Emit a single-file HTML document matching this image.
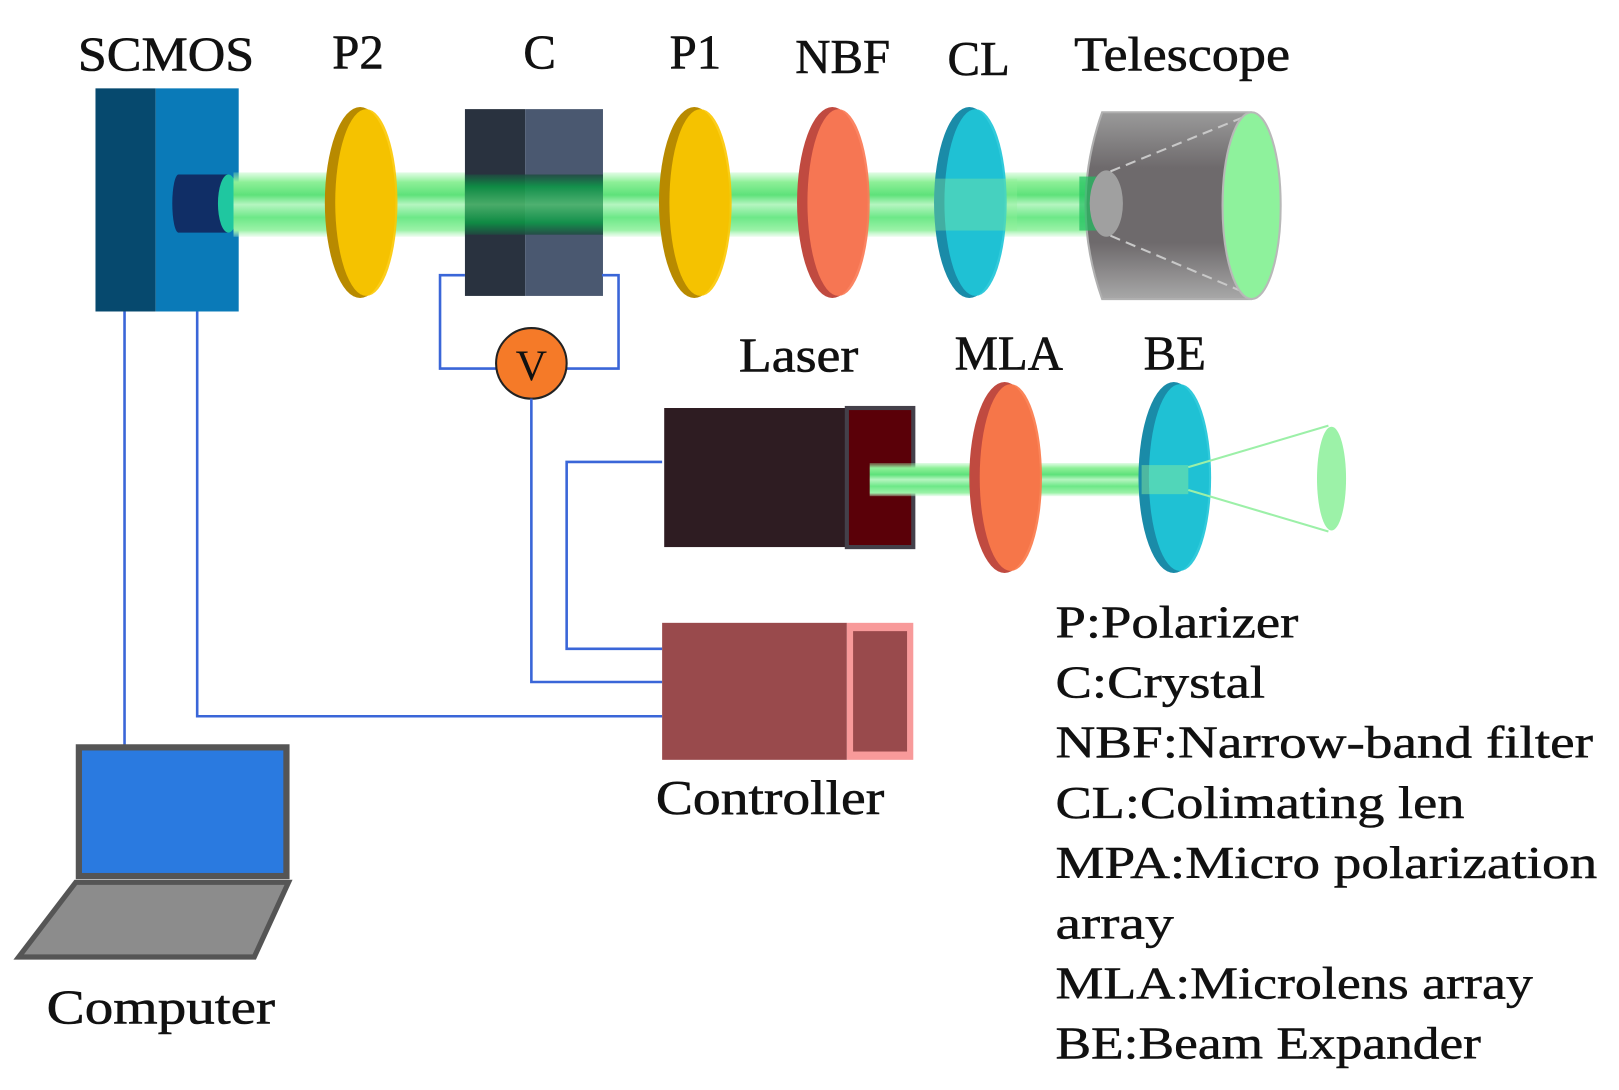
<!DOCTYPE html>
<html><head><meta charset="utf-8"><style>
html,body{margin:0;padding:0;background:#fff;width:1619px;height:1090px;overflow:hidden}
text{font-family:"Liberation Serif",serif;fill:#111}
</style></head><body>
<svg width="1619" height="1090" viewBox="0 0 1560 1050" xmlns="http://www.w3.org/2000/svg">
<defs>
<linearGradient id="beam" x1="0" y1="0" x2="0" y2="1">
<stop offset="0" stop-color="#9cf5a8" stop-opacity="0.3"/>
<stop offset="0.15" stop-color="#8ef098"/>
<stop offset="0.35" stop-color="#5ee27a"/>
<stop offset="0.5" stop-color="#b5f5c0"/>
<stop offset="0.7" stop-color="#6de888"/>
<stop offset="0.9" stop-color="#9cf2a8"/>
<stop offset="1" stop-color="#bff7c8" stop-opacity="0.3"/>
</linearGradient>
<linearGradient id="beamd" x1="0" y1="0" x2="0" y2="1">
<stop offset="0" stop-color="#1f4a40"/>
<stop offset="0.2" stop-color="#0a9a45"/>
<stop offset="0.5" stop-color="#4fc070"/>
<stop offset="0.8" stop-color="#0a9a45"/>
<stop offset="1" stop-color="#1f4a40"/>
</linearGradient>
<linearGradient id="tel" x1="0" y1="0" x2="0" y2="1">
<stop offset="0" stop-color="#9a9a9a"/><stop offset="0.3" stop-color="#6e6a6c"/>
<stop offset="0.7" stop-color="#6e6a6c"/><stop offset="1" stop-color="#a8a8a8"/>
</linearGradient>
</defs>

<!-- labels top -->
<g font-size="47" stroke="#111" stroke-width="0.6">
<text x="75" y="68" textLength="170" lengthAdjust="spacingAndGlyphs">SCMOS</text>
<text x="345" y="66" text-anchor="middle">P2</text>
<text x="520" y="66" text-anchor="middle">C</text>
<text x="670" y="66" text-anchor="middle">P1</text>
<text x="812" y="70" text-anchor="middle">NBF</text>
<text x="943" y="72" text-anchor="middle">CL</text>
<text x="1035" y="68" textLength="208" lengthAdjust="spacingAndGlyphs">Telescope</text>
</g>

<!-- SCMOS -->
<rect x="92" y="85" width="58" height="215" fill="#06496e"/>
<rect x="150" y="85" width="80" height="215" fill="#0a7ab8"/>
<rect x="172" y="168" width="48" height="56" fill="#102e66"/>
<ellipse cx="172" cy="196" rx="6" ry="28" fill="#102e66"/>
<ellipse cx="220" cy="196" rx="10" ry="28" fill="#1fc7a0"/>

<!-- main beam -->
<rect x="225" y="166" width="835" height="62" fill="url(#beam)"/>

<!-- P2 -->
<ellipse cx="347" cy="195" rx="34" ry="92" fill="#b88a00"/>
<ellipse cx="353" cy="195" rx="30" ry="90" fill="#fcc800" opacity="0.9"/>
<!-- Crystal -->
<rect x="448" y="105" width="58" height="180" fill="#29323f"/>
<rect x="506" y="105" width="75" height="180" fill="#4a5870"/>
<rect x="448" y="168" width="133" height="58" fill="url(#beamd)" opacity="0.85"/>
<!-- P1 -->
<ellipse cx="669" cy="195" rx="34" ry="92" fill="#b88a00"/>
<ellipse cx="675" cy="195" rx="30" ry="90" fill="#fcc800" opacity="0.9"/>
<!-- NBF -->
<ellipse cx="802" cy="195" rx="34" ry="92" fill="#c04a40"/>
<ellipse cx="808" cy="195" rx="30" ry="90" fill="#fb7a55" opacity="0.92"/>
<!-- CL -->
<ellipse cx="934" cy="195" rx="34" ry="92" fill="#1a8ba8"/>
<ellipse cx="940" cy="195" rx="30" ry="90" fill="#20c5d8" opacity="0.92"/>
<rect x="900" y="172" width="80" height="50" fill="#8ef098" opacity="0.35"/>

<!-- Telescope -->
<path d="M1062,108 L1205,108 L1205,288 L1062,288 Q1030,198 1062,108 Z" fill="url(#tel)" stroke="#b0b0b0" stroke-width="2"/>
<rect x="1040" y="170" width="25" height="52" fill="#1fc060" opacity="0.7"/>
<ellipse cx="1066" cy="196" rx="16" ry="32" fill="#a0a0a0"/>
<line x1="1070" y1="165" x2="1200" y2="112" stroke="#c8c8c8" stroke-width="2" stroke-dasharray="10,6"/>
<line x1="1070" y1="227" x2="1200" y2="282" stroke="#c8c8c8" stroke-width="2" stroke-dasharray="10,6"/>
<ellipse cx="1206" cy="198" rx="28" ry="90" fill="#8ef29c" stroke="#b8b8b8" stroke-width="2"/>

<!-- crystal wires -->
<polyline points="448,265 424,265 424,355 478,355" fill="none" stroke="#3a66d8" stroke-width="2.5"/>
<polyline points="580,265 596,265 596,355 546,355" fill="none" stroke="#3a66d8" stroke-width="2.5"/>
<circle cx="512" cy="350" r="34" fill="#f57a28" stroke="#222" stroke-width="2"/>
<text x="512" y="366" font-size="42" text-anchor="middle">V</text>

<!-- wires -->
<g fill="none" stroke="#3a66d8" stroke-width="2.5">
<polyline points="512,384 512,657 638,657"/>
<polyline points="638,445 546,445 546,625 638,625"/>
<polyline points="190,300 190,690 638,690"/>
<polyline points="120,300 120,718"/>
</g>

<!-- Laser labels -->
<g font-size="47" stroke="#111" stroke-width="0.6">
<text x="712" y="358" textLength="115" lengthAdjust="spacingAndGlyphs">Laser</text>
<text x="972" y="356" text-anchor="middle">MLA</text>
<text x="1132" y="356" text-anchor="middle">BE</text>
</g>

<!-- Laser -->
<rect x="640" y="393" width="176" height="134" fill="#2e1c22"/>
<rect x="816" y="393" width="64" height="134" fill="#5a0008" stroke="#44404a" stroke-width="4"/>
<rect x="838" y="446" width="302" height="32" fill="url(#beam)"/>
<ellipse cx="968" cy="460" rx="34" ry="92" fill="#c04a40"/>
<ellipse cx="974" cy="460" rx="30" ry="90" fill="#fb7a4a" opacity="0.92"/>
<ellipse cx="1131" cy="460" rx="34" ry="92" fill="#1a8ba8"/>
<ellipse cx="1137" cy="460" rx="30" ry="90" fill="#20c5d8" opacity="0.92"/>
<rect x="1100" y="448" width="45" height="28" fill="#8ef098" opacity="0.45"/>
<g stroke="#9cf0a8" stroke-width="2" fill="none">
<line x1="1145" y1="450" x2="1280" y2="410"/>
<line x1="1145" y1="472" x2="1280" y2="512"/>
</g>
<ellipse cx="1283" cy="461" rx="14" ry="50" fill="#9cf2a8"/>

<!-- Controller -->
<rect x="638" y="600" width="178" height="132" fill="#994a4c"/>
<rect x="816" y="600" width="64" height="132" fill="#f89a9a"/>
<rect x="822" y="608" width="52" height="116" fill="#994a4c"/>
<text x="632" y="784" font-size="47" stroke="#111" stroke-width="0.6" textLength="220" lengthAdjust="spacingAndGlyphs">Controller</text>

<!-- Laptop -->
<rect x="76" y="720" width="200" height="124" fill="#2a7ae0" stroke="#555" stroke-width="6"/>
<polygon points="73,850 278,850 245,922 18,922" fill="#8c8c8c" stroke="#555" stroke-width="5"/>
<text x="45" y="986" font-size="47" stroke="#111" stroke-width="0.6" textLength="220" lengthAdjust="spacingAndGlyphs">Computer</text>

<!-- legend -->
<g font-size="44" stroke="#111" stroke-width="0.5">
<text x="1017" y="614" textLength="234" lengthAdjust="spacingAndGlyphs">P:Polarizer</text>
<text x="1017" y="672" textLength="202" lengthAdjust="spacingAndGlyphs">C:Crystal</text>
<text x="1017" y="730" textLength="518" lengthAdjust="spacingAndGlyphs">NBF:Narrow-band filter</text>
<text x="1017" y="788" textLength="394" lengthAdjust="spacingAndGlyphs">CL:Colimating len</text>
<text x="1017" y="846" textLength="522" lengthAdjust="spacingAndGlyphs">MPA:Micro polarization</text>
<text x="1017" y="904" textLength="114" lengthAdjust="spacingAndGlyphs">array</text>
<text x="1017" y="962" textLength="460" lengthAdjust="spacingAndGlyphs">MLA:Microlens array</text>
<text x="1017" y="1020" textLength="410" lengthAdjust="spacingAndGlyphs">BE:Beam Expander</text>
</g>
</svg>
</body></html>
